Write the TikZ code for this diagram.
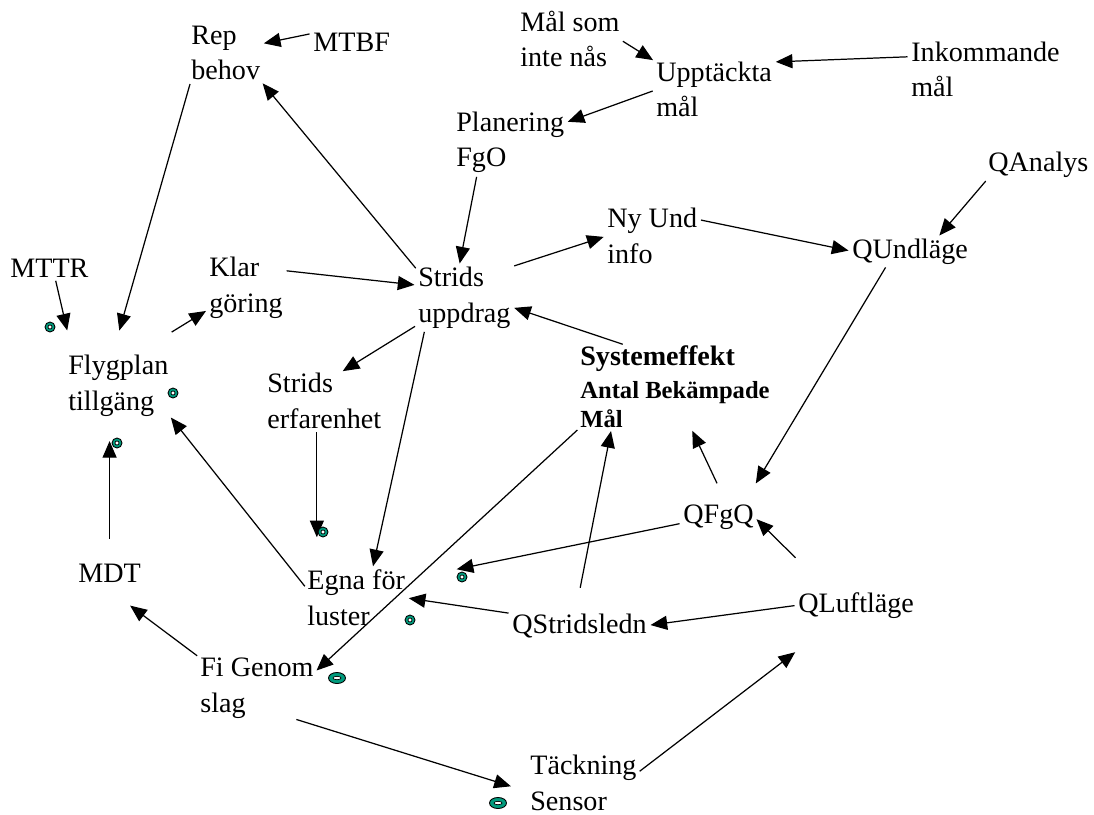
\documentclass[tikz,border=0pt]{standalone}
\usepackage{fontspec}
\setmainfont{Liberation Serif}
\usetikzlibrary{arrows.meta}
\definecolor{ringgreen}{RGB}{0,155,125}

\begin{document}
\begin{tikzpicture}[x=0.02cm,y=-0.02cm,
  lbl/.style={anchor=base west, align=left, inner sep=0pt, font=\fontsize{16}{20}\selectfont},
  arr/.style={-{Triangle[length=9.5pt,width=8pt]}, line width=0.7pt, shorten >=2pt, shorten <=2pt},
  ring/.style={draw=black, line width=0.5pt, fill=ringgreen}]
\useasboundingbox (0,0) rectangle (1094,814);
% base = last line
\node[lbl] (rep) at (191,80) {Rep\\behov};
\node[lbl] (mtbf) at (313,52) {MTBF};
\node[lbl] (malsom) at (520,67) {Mål som\\inte nås};
\node[lbl] (upptackt) at (656,117) {Upptäckta\\mål};
\node[lbl] (inkom) at (911,97) {Inkommande\\mål};
\node[lbl] (plan) at (456,167) {Planering\\FgO};
\node[lbl] (qanalys) at (988,172) {QAnalys};
\node[lbl] (nyund) at (607,263) {Ny Und\\info};
\node[lbl] (qund) at (852,258) {QUndläge};
\node[lbl] (mttr) at (10,277) {MTTR};
\node[lbl] (klar) at (209,312) {Klar\\göring};
\node[lbl] (strids) at (418,322) {Strids\\uppdrag};
\node[lbl, inner ysep=12pt] (flyg) at (68,410) {Flygplan\\tillgäng};
\node[lbl] (erfar) at (267,428) {Strids\\erfarenhet};
\node[lbl, font=\bfseries\fontsize{16}{18.5}\selectfont] (sys) at (580,427)
  {Systemeffekt\\{\fontsize{14}{16}\selectfont Antal Bekämpade}\\[-2pt]{\fontsize{14}{16}\selectfont Mål}};
\node[lbl, inner ysep=10pt] (qfgq) at (683,523) {QFgQ};
\node[lbl, inner ysep=12pt] (mdt) at (78,582) {MDT};
\node[lbl] (egna) at (307,625) {Egna för\\luster};
\node[lbl, inner ysep=12.5pt] (qstrid) at (512,633) {QStridsledn};
\node[lbl, inner ysep=18pt] (qluft) at (798,612) {QLuftläge};
\node[lbl] (fi) at (200,712) {Fi Genom\\slag};
\node[lbl] (tack) at (530,810) {Täckning\\Sensor};

\draw[arr] (mtbf.north west) -- (rep.15);
\draw[arr] (rep.south west) -- (flyg.north);
\draw[arr] (strids.150) -- (rep.south east);
\draw[arr] (malsom.east) -- (upptackt.north west);
\draw[arr] (inkom.170) -- (upptackt.north east);
\draw[arr] (upptackt.west) -- (plan.20);
\draw[arr] (plan.-137) -- (strids.100);
\draw[arr] (qanalys.south west) -- (qund.26);
\draw[arr] (strids.north east) -- (nyund.west);
\draw[arr] (nyund.20) -- (qund.west);
\draw[arr] (qund.-150) -- (qfgq.north east);
\draw[arr] (mttr.-60) -- (flyg.north west);
\draw[arr] (klar.25) -- (strids.165);
\draw[arr] (flyg.north east) -- (klar.-150);
\draw[arr] (sys.140) -- (strids.-11);
\draw[arr] (strids.-150) -- (erfar.61);
\draw[arr] (strids.-142) -- (egna.60);
\draw[arr, shorten >=0.65cm] (erfar.-105) -- (erfar.-105 |- egna.north);
\draw[arr] (mdt.north) -- (mdt.north |- flyg.south);
\draw[arr] (egna.170) -- (flyg.-30);
\draw[arr] (sys.south west) -- (fi.15);
\draw[arr] (qfgq.north) -- (sys.-69);
\draw[arr, shorten >=1.05cm] (qfgq.-170) -- (egna.20);
\draw[arr] (qluft.north west) -- (qfgq.east);
\draw[arr] (qstrid.north) -- (sys.-147);
\draw[arr] (qstrid.170) -- (egna.east);
\draw[arr] (qluft.west) -- (qstrid.east);
\draw[arr] (fi.north west) -- (mdt.-60);
\draw[arr, shorten >=0.4cm] (fi.-40) -- (tack.-170);
\draw[arr] (tack.10) -- (qluft.south west);

\foreach \p in {(50,327),(173,393),(117,443),(323,532),(462,577),(410,620)}
  {\draw[ring] \p ellipse (5 and 5); \draw[fill=white, line width=0.4pt] \p ellipse (2 and 2);}
\foreach \p in {(337,678),(498,803)}
  {\draw[ring] \p ellipse (8.5 and 5.5); \draw[fill=white, line width=0.4pt] \p ellipse (4 and 1.7);}
\end{tikzpicture}
\end{document}
